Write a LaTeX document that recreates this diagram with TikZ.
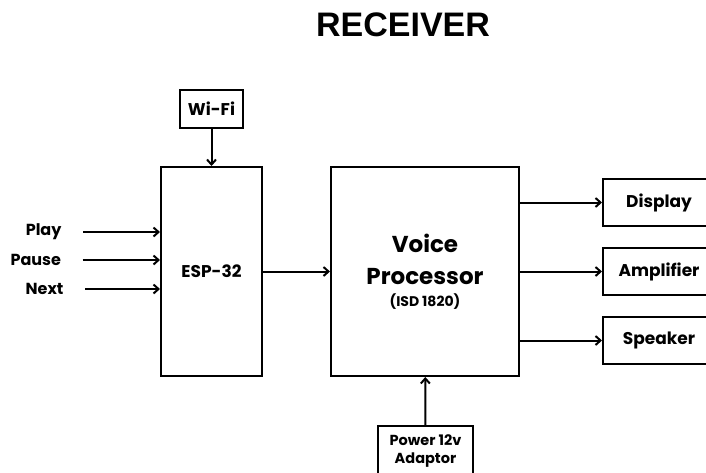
\documentclass[tikz,border=0pt]{standalone}
\usepackage{fontspec}
\setmainfont{Poppins}
\newfontfamily\titlefont{Liberation Sans}
\usetikzlibrary{arrows.meta}
\tikzset{
  blk/.style={draw, line width=2pt, inner sep=0pt, align=center, font=\bfseries\fontsize{17}{20}\selectfont},
  arr/.style={line width=2pt, -{Straight Barb[length=5pt,width=9pt]}},
  lbl/.style={anchor=east, font=\bfseries\fontsize{16}{19}\selectfont}
}
\begin{document}
\begin{tikzpicture}[x=1pt,y=1pt]
  \useasboundingbox (0,0) rectangle (706,-472);
  \node (title) at (403,-25) {\titlefont\bfseries\fontsize{34}{40}\selectfont RECEIVER};
  % blocks
  \node[blk, minimum width=63, minimum height=38] (wifi) at (211.5,-109) {Wi-Fi};
  \node[blk, minimum width=101, minimum height=209] (esp) at (211.5,-271.5) {ESP-32};
  \node[blk, minimum width=188, minimum height=209, font=\bfseries\fontsize{23}{32}\selectfont] (voice) at (425,-271.5)
    {Voice\\Processor\\[-10pt]{\fontsize{14}{17}\selectfont (ISD 1820)}};
  \node[blk, minimum width=112, minimum height=47] (disp) at (659,-202.5) {Display};
  \node[blk, minimum width=112, minimum height=47] (amp) at (659,-271.5) {Amplifier};
  \node[blk, minimum width=112, minimum height=47] (spk) at (659,-340.5) {Speaker};
  \node[blk, minimum width=95, minimum height=50, font=\bfseries\fontsize{14.5}{18}\selectfont] (pwr) at (425.5,-451) {Power 12v\\Adaptor};
  % inputs
  \node[lbl] (play) at (65,-232) {Play};
  \node[lbl] (pause) at (64.5,-260) {Pause};
  \node[lbl] (next) at (67,-289) {Next};
  \foreach \n in {play,pause,next}
    \draw[arr, shorten <=18pt] (\n.east) -- (\n.east -| esp.west);
  % links
  \draw[arr] (wifi) -- (esp);
  \draw[arr] (esp) -- (voice);
  \foreach \n in {disp,amp,spk}
    \draw[arr] (voice.east |- \n.west) -- (\n.west);
  \draw[arr] (pwr) -- (voice);
\end{tikzpicture}
\end{document}
